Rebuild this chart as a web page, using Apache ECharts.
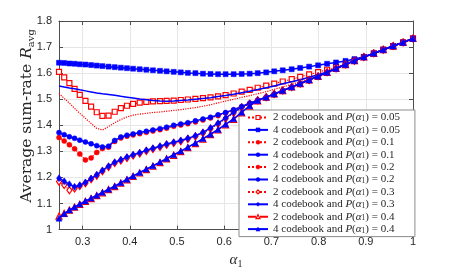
<!DOCTYPE html>
<html><head><meta charset="utf-8">
<script src="https://cdn.jsdelivr.net/npm/echarts@6/dist/echarts.min.js"></script>
<style>html,body{margin:0;padding:0;background:#fff}#c{width:457px;height:274px}</style>
</head><body><div id="c"></div>
<script>
const X = [0.250,0.261,0.272,0.283,0.294,0.306,0.318,0.330,0.342,0.355,0.368,0.381,0.394,0.407,0.421,0.435,0.449,0.464,0.478,0.493,0.508,0.523,0.539,0.555,0.571,0.587,0.603,0.620,0.637,0.654,0.671,0.689,0.706,0.724,0.743,0.761,0.780,0.799,0.818,0.837,0.857,0.876,0.896,0.917,0.937,0.958,0.979,1.000];

const cb2_p005 = [1.605,1.584,1.562,1.540,1.517,1.494,1.472,1.450,1.436,1.437, 1.452,1.466,1.475,1.482,1.487,1.490,1.492,1.493,1.494,1.495, 1.497,1.499,1.501,1.504,1.507,1.511,1.516,1.522,1.529,1.536, 1.544,1.552,1.560,1.568,1.577,1.586,1.595,1.604,1.613,1.623, 1.635,1.648,1.662,1.676,1.690,1.704,1.718,1.733];
const cb4_p005 = [1.640,1.639,1.637,1.636,1.634,1.633,1.631,1.629,1.627,1.625, 1.623,1.621,1.619,1.617,1.615,1.613,1.611,1.609,1.607,1.605, 1.603,1.601,1.600,1.598,1.597,1.596,1.596,1.596,1.597,1.598, 1.600,1.603,1.607,1.611,1.615,1.620,1.625,1.630,1.636,1.641, 1.647,1.654,1.662,1.676,1.690,1.704,1.718,1.733];
const cb2_p01 = [1.522,1.503,1.485,1.465,1.446,1.427,1.407,1.388,1.382,1.395, 1.410,1.422,1.432,1.439,1.443,1.446,1.449,1.451,1.454,1.457, 1.460,1.464,1.468,1.473,1.479,1.486,1.493,1.500,1.507,1.514, 1.521,1.529,1.538,1.547,1.557,1.567,1.578,1.590,1.604,1.618, 1.633,1.648,1.662,1.676,1.690,1.704,1.718,1.733];
const cb4_p01 = [1.551,1.547,1.543,1.540,1.536,1.532,1.528,1.524,1.521,1.518, 1.515,1.511,1.508,1.505,1.501,1.498,1.495,1.493,1.492,1.493, 1.495,1.497,1.500,1.503,1.506,1.510,1.514,1.519,1.525,1.531, 1.537,1.544,1.551,1.559,1.567,1.575,1.584,1.594,1.605,1.619, 1.634,1.648,1.662,1.676,1.690,1.704,1.718,1.733];
const cb2_p02 = [1.353,1.340,1.325,1.310,1.290,1.267,1.275,1.296,1.311,1.316, 1.338,1.351,1.358,1.363,1.368,1.373,1.378,1.383,1.389,1.396, 1.401,1.406,1.413,1.420,1.428,1.437,1.447,1.458,1.471,1.484, 1.496,1.508,1.520,1.533,1.547,1.560,1.574,1.588,1.603,1.618, 1.633,1.648,1.662,1.676,1.690,1.704,1.718,1.733];
const cb4_p02 = [1.372,1.364,1.356,1.350,1.343,1.336,1.329,1.322,1.317,1.320, 1.342,1.355,1.362,1.367,1.372,1.377,1.382,1.387,1.393,1.400, 1.405,1.410,1.417,1.424,1.431,1.440,1.449,1.460,1.472,1.484, 1.496,1.508,1.520,1.533,1.547,1.560,1.574,1.588,1.603,1.618, 1.633,1.648,1.662,1.676,1.690,1.704,1.718,1.733];
const cb2_p03 = [1.184,1.171,1.151,1.158,1.167,1.178,1.193,1.207,1.224,1.240, 1.255,1.265,1.275,1.284,1.292,1.301,1.309,1.317,1.325,1.332, 1.339,1.347,1.357,1.370,1.387,1.405,1.425,1.447,1.468,1.483, 1.496,1.508,1.520,1.533,1.547,1.560,1.574,1.588,1.603,1.618, 1.633,1.648,1.662,1.676,1.690,1.704,1.718,1.733];
const cb4_p03 = [1.197,1.185,1.174,1.164,1.170,1.181,1.196,1.210,1.227,1.243, 1.258,1.268,1.278,1.287,1.295,1.304,1.312,1.320,1.328,1.335, 1.342,1.350,1.360,1.373,1.390,1.408,1.428,1.450,1.470,1.484, 1.496,1.508,1.520,1.533,1.547,1.560,1.574,1.588,1.603,1.618, 1.633,1.648,1.662,1.676,1.690,1.704,1.718,1.733];
const cb2_p04 = [1.052,1.062,1.075,1.086,1.097,1.108,1.119,1.130,1.141,1.153, 1.165,1.178,1.191,1.204,1.217,1.230,1.243,1.257,1.271,1.285, 1.299,1.314,1.330,1.347,1.364,1.382,1.402,1.423,1.448,1.473, 1.494,1.508,1.520,1.533,1.547,1.560,1.574,1.588,1.603,1.618, 1.633,1.648,1.662,1.676,1.690,1.704,1.718,1.733];
const cb4_p04 = [1.044,1.061,1.075,1.087,1.098,1.110,1.121,1.132,1.143,1.155, 1.167,1.180,1.193,1.206,1.219,1.232,1.245,1.259,1.273,1.287, 1.301,1.316,1.332,1.349,1.366,1.384,1.404,1.425,1.450,1.475, 1.495,1.508,1.520,1.533,1.547,1.560,1.574,1.588,1.603,1.618, 1.633,1.648,1.662,1.676,1.690,1.704,1.718,1.733];

const X_TICKS = [0.3,0.4,0.5,0.6,0.7,0.8,0.9,1];
const CODEBOOKS = ['2','4','2','4','2','4','2','4','2','4'];
const PROBS = ['0.05','0.05','0.1','0.1','0.2','0.2','0.3','0.3','0.4','0.4'];
const SERIES_DATA = [cb2_p005,cb4_p005,cb2_p01,cb4_p01,cb2_p02,cb4_p02,cb2_p03,cb4_p03,cb2_p04,cb4_p04];

const RED = '#ff0000', BLUE = '#0000ff';
const styles = [
  {c:RED, t:'dotted', sym:'rect', sz:5, hollow:true, w:1.2},
  {c:BLUE, t:'solid', sym:'rect', sz:5, hollow:false, w:1.5},
  {c:RED, t:'dotted', sym:'none', sz:0, hollow:false, w:1.2},
  {c:BLUE, t:'solid', sym:'none', sz:0, hollow:false, w:1.5},
  {c:RED, t:'dotted', sym:'circle', sz:5, hollow:false, w:1.2},
  {c:BLUE, t:'solid', sym:'circle', sz:5, hollow:false, w:1.5},
  {c:RED, t:'dotted', sym:'diamond', sz:[5,7], hollow:true, w:1.2},
  {c:BLUE, t:'solid', sym:'diamond', sz:[5,7], hollow:false, w:1.5},
  {c:RED, t:'dashed', sym:'triangle', sz:6, hollow:true, w:1.2},
  {c:BLUE, t:'solid', sym:'triangle', sz:6, hollow:false, w:1.5}
];

const names = CODEBOOKS.map((c,i)=> c + ' codebook and P(α1) = ' + PROBS[i]);
const serif = '"Liberation Serif","DejaVu Serif",serif';
const sans = '"Liberation Sans","DejaVu Sans",sans-serif';
const ink = '#262626';

const itemStyleOf = s => s.hollow ? {color:'#ffffff', borderColor:s.c, borderWidth:1.2} : {color:s.c, borderColor:s.c, borderWidth:0.5};

const series = SERIES_DATA.map((arr,i)=>{
  const s = styles[i];
  return {
    name: names[i], type:'line', xAxisIndex:0, yAxisIndex:0,
    data: arr.map((v,j)=>[X[j], v]),
    symbol: s.sym, symbolSize: s.sz, showSymbol: s.sym !== 'none',
    lineStyle:{color:s.c, width:s.w, type:s.t},
    itemStyle: itemStyleOf(s),
    emphasis:{disabled:true}, z: 2 + i
  };
});

const legendData = names.map((n,i)=>({name:n, itemStyle:itemStyleOf(styles[i])}));

const chart = echarts.init(document.getElementById('c'), null, {renderer:'canvas'});
const axisLineColor = '#4d4d4d';
chart.setOption({
  animation:false,
  backgroundColor:'#ffffff',
  grid:{left:59, right:44, top:21, bottom:37, containLabel:false},
  graphic:[{
    type:'text', x:27, y:116, rotation:Math.PI/2,
    style:{
      text:'Average sum-rate {i|R}{s|avg}', align:'center', verticalAlign:'middle',
      font:'15.5px "DejaVu Serif", serif', fill:ink,
      rich:{i:{fontFamily:'"DejaVu Serif", serif', fontStyle:'italic', fontSize:15.5, fill:ink}, s:{fontFamily:'"DejaVu Serif", serif', fontSize:10, fill:ink, padding:[9,0,0,0]}}
    }
  }],
  xAxis:[{
    type:'value', min:0.25, max:1, position:'bottom',
    name:'{i|α}{s|1}', nameLocation:'middle', nameGap:20,
    nameTextStyle:{rich:{i:{fontFamily:serif, fontStyle:'italic', fontSize:15, color:ink}, s:{fontFamily:serif, fontSize:10, color:ink, padding:[8,0,0,0]}}},
    axisLine:{show:true, onZero:false, lineStyle:{color:axisLineColor, width:1}},
    axisTick:{show:true, inside:true, length:4, customValues:X_TICKS, lineStyle:{color:axisLineColor}},
    axisLabel:{show:true, customValues:X_TICKS, formatter:v=>String(+v.toFixed(1)), color:ink, fontFamily:sans, fontSize:11, margin:7},
    splitLine:{show:true, lineStyle:{color:'#e6e6e6', width:1}}
  },{
    type:'value', min:0.25, max:1, position:'top',
    axisLine:{show:true, onZero:false, lineStyle:{color:axisLineColor, width:1}},
    axisTick:{show:true, inside:true, length:4, customValues:X_TICKS, lineStyle:{color:axisLineColor}},
    axisLabel:{show:false}, splitLine:{show:false}
  }],
  yAxis:[{
    type:'value', min:1, max:1.8, interval:0.1, position:'left',
    axisLine:{show:true, onZero:false, lineStyle:{color:axisLineColor, width:1}},
    axisTick:{show:true, inside:true, length:4, lineStyle:{color:axisLineColor}},
    axisLabel:{formatter:v=>String(+v.toFixed(1)), color:ink, fontFamily:sans, fontSize:11, margin:7},
    splitLine:{show:true, lineStyle:{color:'#e6e6e6', width:1}}
  },{
    type:'value', min:1, max:1.8, interval:0.1, position:'right',
    axisLine:{show:true, onZero:false, lineStyle:{color:axisLineColor, width:1}},
    axisTick:{show:true, inside:true, length:4, lineStyle:{color:axisLineColor}},
    axisLabel:{show:false}, splitLine:{show:false}
  }],
  legend:{
    orient:'vertical', left:239, top:110,
    data:legendData, itemWidth:20, itemHeight:5, itemGap:1.4,
    padding:[2,15,2,8], borderColor:'#8c8c8c', borderWidth:1, backgroundColor:'#ffffff',
    formatter:function(n){
      const m = n.match(/^(\d) codebook and P\(α1\) = (.*)$/);
      return '{n|' + m[1] + ' codebook and }{i|P}{n|(}{i|α}{s|1}{n|) = ' + m[2] + '}';
    },
    textStyle:{fontFamily:serif, fontSize:11, color:ink, lineHeight:11,
      rich:{n:{fontFamily:serif, fontSize:11, color:ink, lineHeight:11}, i:{fontFamily:serif, fontStyle:'italic', fontSize:11, color:ink, lineHeight:11}, s:{fontFamily:serif, fontSize:7.5, color:ink, lineHeight:11, verticalAlign:'bottom'}}}
  },
  series: series
});
</script></body></html>
